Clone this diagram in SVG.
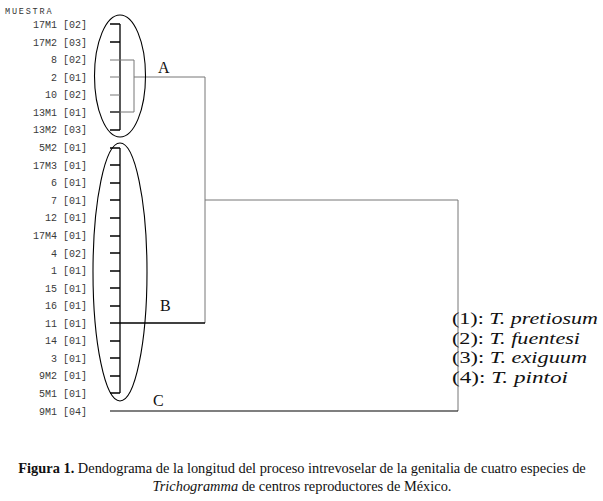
<svg xmlns="http://www.w3.org/2000/svg" width="603" height="501" viewBox="0 0 603 501">
<style>
.lbl{font-family:"Liberation Mono",monospace;font-size:10px;fill:#3a3a3a;text-anchor:end}
.cl{font-family:"Liberation Serif",serif;font-size:16px;fill:#111}
.lg{font-family:"Liberation Serif",serif;font-size:17.5px;fill:#111}
.cap{font-family:"Liberation Serif",serif;font-size:14.4px;fill:#111;text-anchor:middle}
.blk{stroke:#000;stroke-width:1.3;fill:none}
.gry{stroke:#777;stroke-width:1;fill:none}
.ell{stroke:#000;stroke-width:1.1;fill:none}
</style>
<rect width="603" height="501" fill="#fff"/>
<text x="5" y="14" style="font-family:'Liberation Mono',monospace;font-size:8.5px;letter-spacing:1.8px;fill:#333">MUESTRA</text>
<g id="labels">
<text class="lbl" x="87" y="28">17M1 [02]</text>
<text class="lbl" x="87" y="46">17M2 [03]</text>
<text class="lbl" x="87" y="63">8 [02]</text>
<text class="lbl" x="87" y="81">2 [01]</text>
<text class="lbl" x="87" y="98">10 [02]</text>
<text class="lbl" x="87" y="116">13M1 [01]</text>
<text class="lbl" x="87" y="133">13M2 [03]</text>
<text class="lbl" x="87" y="151">5M2 [01]</text>
<text class="lbl" x="87" y="169">17M3 [01]</text>
<text class="lbl" x="87" y="186">6 [01]</text>
<text class="lbl" x="87" y="204">7 [01]</text>
<text class="lbl" x="87" y="221">12 [01]</text>
<text class="lbl" x="87" y="239">17M4 [01]</text>
<text class="lbl" x="87" y="257">4 [02]</text>
<text class="lbl" x="87" y="274">1 [01]</text>
<text class="lbl" x="87" y="292">15 [01]</text>
<text class="lbl" x="87" y="309">16 [01]</text>
<text class="lbl" x="87" y="327">11 [01]</text>
<text class="lbl" x="87" y="344">14 [01]</text>
<text class="lbl" x="87" y="362">3 [01]</text>
<text class="lbl" x="87" y="379">9M2 [01]</text>
<text class="lbl" x="87" y="397">5M1 [01]</text>
<text class="lbl" x="87" y="415">9M1 [04]</text>
</g>
<g id="connectors">
<path class="blk" d="M120 24V130M110 24H120M110 42H120M110 130H120M110 112H120"/>
<path class="gry" d="M110 60H134M110 77H120M110 95H120M110 112H134M134 60V112M134 77H205V323M205 200H458V411"/>
<path class="blk" d="M120 148V393M110 148H120M110 165H120M110 183H120M110 200H120M110 218H120M110 236H120M110 253H120M110 271H120M110 288H120M110 306H120M110 341H120M110 358H120M110 376H120M110 393H120"/>
<path class="blk" d="M110 323H205"/>
<path class="blk" d="M110 411H458" style="stroke-width:1.2"/>
</g>
<g id="node-A">
<ellipse class="ell" cx="120" cy="76" rx="25.5" ry="61"/>
<text class="cl" x="158" y="73">A</text>
</g>
<g id="node-B">
<ellipse class="ell" cx="120" cy="272" rx="27" ry="129"/>
<text class="cl" x="160" y="311">B</text>
</g>
<g id="node-C">
<text class="cl" x="153" y="406">C</text>
</g>
<g id="legend">
<text class="lg" x="452" y="324" textLength="146" lengthAdjust="spacingAndGlyphs">(1): <tspan font-style="italic">T. pretiosum</tspan></text>
<text class="lg" x="452" y="344" textLength="128" lengthAdjust="spacingAndGlyphs">(2): <tspan font-style="italic">T. fuentesi</tspan></text>
<text class="lg" x="452" y="363" textLength="135" lengthAdjust="spacingAndGlyphs">(3): <tspan font-style="italic">T. exiguum</tspan></text>
<text class="lg" x="452" y="383" textLength="116" lengthAdjust="spacingAndGlyphs">(4): <tspan font-style="italic">T. pintoi</tspan></text>
</g>
<g id="caption">
<text class="cap" x="302" y="473"><tspan font-weight="bold">Figura 1.</tspan> Dendograma de la longitud del proceso intrevoselar de la genitalia de cuatro especies de</text>
<text class="cap" x="302" y="491"><tspan font-style="italic">Trichogramma</tspan> de centros reproductores de México.</text>
</g>
</svg>
